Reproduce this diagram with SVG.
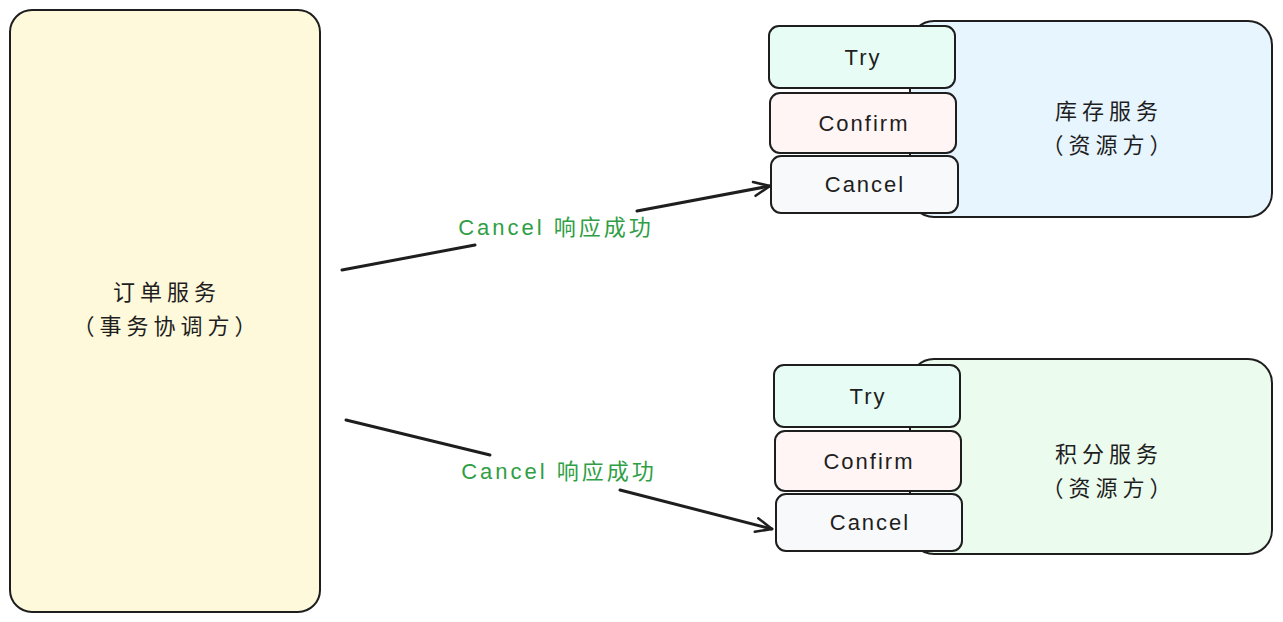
<svg xmlns="http://www.w3.org/2000/svg" width="1283" height="622" viewBox="0 0 1283 622">
<style>
.box{stroke:#1e1e1e;stroke-width:2}
.t{font-family:"Liberation Sans","Noto Sans CJK SC",sans-serif;font-size:22px;fill:#1e1e1e;text-anchor:middle;dominant-baseline:central}
.cj{letter-spacing:5px}
.en{letter-spacing:2px}
.lbl{font-family:"Liberation Sans","Noto Sans CJK SC",sans-serif;font-size:22px;fill:#2f9e44;text-anchor:middle;dominant-baseline:central;letter-spacing:3px}
.c{fill:none;stroke:#1e1e1e;stroke-width:3;stroke-linecap:round}
</style>
<defs>
<marker id="ah" viewBox="0 0 20 20" refX="18" refY="10" markerWidth="20" markerHeight="20" markerUnits="userSpaceOnUse" orient="auto">
<path d="M2 3 L18 10 L2 17" fill="none" stroke="#1e1e1e" stroke-width="2.5" stroke-linecap="round" stroke-linejoin="round"/>
</marker>
</defs>
<rect width="1283" height="622" fill="#ffffff"/>
<g id="order">
<rect class="box" x="10" y="10" width="310" height="602" rx="22" fill="#fff9db"/>
<text class="t cj" x="167" y="292">订单服务</text>
<text class="t cj" x="167" y="326">（事务协调方）</text>
</g>
<g id="stock">
<rect class="box" x="910" y="21" width="362" height="196" rx="24" fill="#e7f5ff"/>
<text class="t cj" x="1109" y="111">库存服务</text>
<text class="t cj" x="1109" y="145">（资源方）</text>
</g>
<g id="stock-try">
<rect class="box" x="769" y="26" width="186" height="62" rx="10" fill="#e6fcf5"/>
<text class="t en" x="863" y="57">Try</text>
</g>
<g id="stock-confirm">
<rect class="box" x="770" y="93" width="186" height="60" rx="10" fill="#fff5f5"/>
<text class="t en" x="864" y="123">Confirm</text>
</g>
<g id="stock-cancel">
<rect class="box" x="771" y="156" width="187" height="57" rx="10" fill="#f8f9fa"/>
<text class="t en" x="865" y="184">Cancel</text>
</g>
<g id="points">
<rect class="box" x="910" y="359" width="362" height="195" rx="24" fill="#ebfbee"/>
<text class="t cj" x="1109" y="454">积分服务</text>
<text class="t cj" x="1109" y="488">（资源方）</text>
</g>
<g id="points-try">
<rect class="box" x="774" y="365" width="186" height="62" rx="10" fill="#e6fcf5"/>
<text class="t en" x="868" y="396">Try</text>
</g>
<g id="points-confirm">
<rect class="box" x="775" y="431" width="186" height="60" rx="10" fill="#fff5f5"/>
<text class="t en" x="869" y="461">Confirm</text>
</g>
<g id="points-cancel">
<rect class="box" x="776" y="494" width="186" height="57" rx="10" fill="#f8f9fa"/>
<text class="t en" x="870" y="522">Cancel</text>
</g>
<g id="connectors">
<path class="c" d="M342 270 L475 245"/>
<path class="c" d="M637 211 L770 186" marker-end="url(#ah)"/>
<text class="lbl" x="556" y="227">Cancel 响应成功</text>
<path class="c" d="M346 420 L490 455"/>
<path class="c" d="M620 490 L772 529" marker-end="url(#ah)"/>
<text class="lbl" x="559" y="471">Cancel 响应成功</text>
</g>
</svg>
